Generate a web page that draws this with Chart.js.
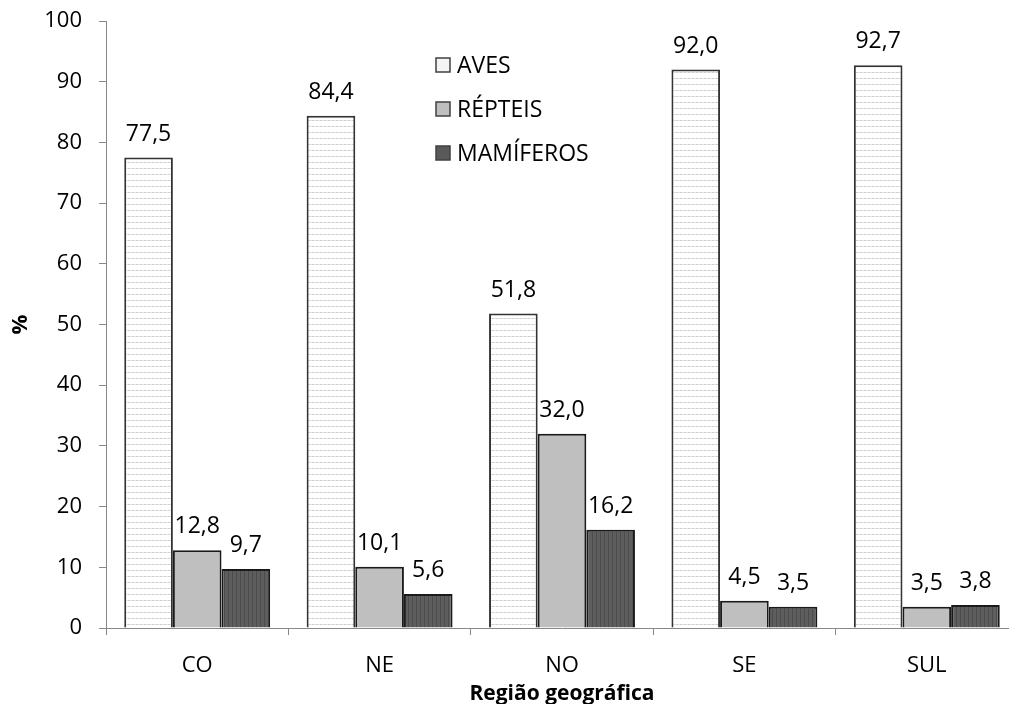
<!DOCTYPE html>
<html><head><meta charset="utf-8">
<script src="https://cdn.jsdelivr.net/npm/chart.js@4.4.1/dist/chart.umd.min.js"></script>
<style>html,body{margin:0;padding:0;background:#fff;overflow:hidden}#wrap{width:1009px;height:704px;overflow:hidden}</style>
</head><body><div id="wrap"><canvas id="c" width="1020" height="704"></canvas></div>
<script>
const categories = ['CO','NE','NO','SE','SUL'];
const aves = [77.5, 84.4, 51.8, 92.0, 92.7];
const repteis = [12.8, 10.1, 32.0, 4.5, 3.5];
const mamiferos = [9.7, 5.6, 16.2, 3.5, 3.8];
const seriesNames = ['AVES','RÉPTEIS','MAMÍFEROS'];
const yTicks = [0,10,20,30,40,50,60,70,80,90,100];
const FONT = '"Open Sans", sans-serif';
const FS = 22;
const FL = 23;

function dotPattern(){
  const c = document.createElement('canvas'); c.width = 4; c.height = 6;
  const x = c.getContext('2d');
  x.fillStyle = '#ffffff'; x.fillRect(0,0,4,6);
  x.fillStyle = '#cfcfcf'; x.fillRect(0,0,2,1);
  x.fillStyle = '#e4e4e4'; x.fillRect(2,0,2,1);
  return x.createPattern(c,'repeat');
}
function stripePattern(){
  const c = document.createElement('canvas'); c.width = 4; c.height = 4;
  const x = c.getContext('2d');
  x.fillStyle = '#5e5e5e'; x.fillRect(0,0,4,4);
  x.fillStyle = '#4c4c4c'; x.fillRect(0,0,1,4);
  return x.createPattern(c,'repeat');
}
const fills = [dotPattern(), '#bfbfbf', stripePattern()];
const legendBoxes = ['#f4f4f4','#bfbfbf','#595959'];

const fmt = v => v.toFixed(1).replace('.', ',');

const labelPlugin = {
  id: 'vlabels',
  afterDatasetsDraw(chart){
    const ctx = chart.ctx;
    ctx.save();
    ctx.font = FL + 'px ' + FONT;
    ctx.fillStyle = '#000';
    ctx.textAlign = 'center';
    ctx.textBaseline = 'alphabetic';
    chart.data.datasets.forEach((ds, i) => {
      const meta = chart.getDatasetMeta(i);
      meta.data.forEach((bar, j) => {
        ctx.fillText(fmt(ds.data[j]), bar.x, bar.y - 17);
      });
    });
    ctx.restore();
  }
};
const legendPlugin = {
  id: 'mylegend',
  afterDraw(chart){
    const ctx = chart.ctx;
    ctx.save();
    ctx.font = FL + 'px ' + FONT;
    ctx.textBaseline = 'middle';
    ctx.textAlign = 'left';
    chart.data.datasets.forEach((ds, i) => {
      const y = 65 + i * 44;
      const x = 436;
      ctx.fillStyle = legendBoxes[i];
      ctx.fillRect(x, y - 7, 14, 14);
      ctx.strokeStyle = '#404040';
      ctx.lineWidth = 1.5;
      ctx.strokeRect(x, y - 7, 14, 14);
      ctx.fillStyle = '#000';
      ctx.fillText(ds.label, x + 21, y + 1);
    });
    ctx.restore();
  }
};

new Chart(document.getElementById('c'), {
  type: 'bar',
  data: {
    labels: categories,
    datasets: [
      {label: seriesNames[0], data: aves, backgroundColor: fills[0], borderColor: '#333333', borderWidth: 2},
      {label: seriesNames[1], data: repteis, backgroundColor: fills[1], borderColor: '#1a1a1a', borderWidth: 2},
      {label: seriesNames[2], data: mamiferos, backgroundColor: fills[2], borderColor: '#1a1a1a', borderWidth: 2}
    ]
  },
  options: {
    responsive: false,
    animation: false,
    layout: {padding: {left: 0, right: 2, top: 21, bottom: 0}},
    plugins: {legend: {display: false}, tooltip: {enabled: false}},
    datasets: {bar: {categoryPercentage: 0.8, barPercentage: 1.0}},
    scales: {
      x: {
        afterFit(axis){ axis.height = 76; axis.paddingLeft = 0; axis.paddingRight = 0; },
        grid: {display: true, drawOnChartArea: false, offset: true, color: '#888', tickLength: 7, lineWidth: 1},
        border: {color: '#888', width: 1},
        ticks: {color: '#000', font: {family: FONT, size: FS}, padding: 18},
        title: {display: true, text: 'Região geográfica', color: '#000', font: {family: FONT, size: 21, weight: 'bold'}, padding: {top: 0, bottom: -3}}
      },
      y: {
        min: 0, max: 100,
        afterFit(axis){ axis.width = 106; axis.paddingTop = 0; axis.paddingBottom = 0; },
        afterBuildTicks(axis){ axis.ticks = yTicks.map(v => ({value: v})); },
        grid: {display: true, drawOnChartArea: false, color: '#888', tickLength: 7},
        border: {color: '#888', width: 1},
        ticks: {color: '#000', font: {family: FONT, size: FS}, padding: 17},
        title: {display: true, text: '%', color: '#000', font: {family: FONT, size: FS, weight: 'bold'}, padding: {top: 8, bottom: 0}}
      }
    }
  },
  plugins: [labelPlugin, legendPlugin]
});
</script></body></html>
